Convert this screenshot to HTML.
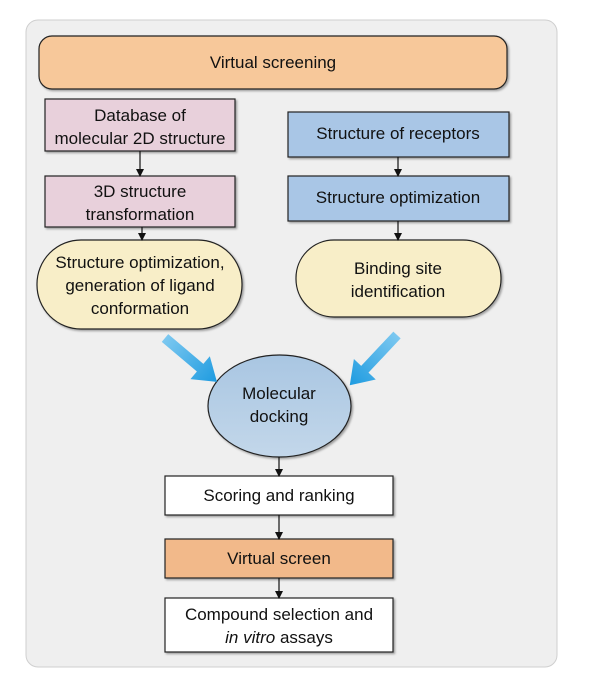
<!DOCTYPE html>
<html><head><meta charset="utf-8"><style>
body{margin:0;background:#fff;}
svg text{font-family:"Liberation Sans",sans-serif;font-size:17px;fill:#111;}
</style></head><body>
<svg width="600" height="686" viewBox="0 0 600 686" xmlns="http://www.w3.org/2000/svg">
<defs>
<marker id="ah" markerWidth="8" markerHeight="8" refX="7" refY="4" orient="auto" markerUnits="userSpaceOnUse"><path d="M0,0 L8,4 L0,8 Z" fill="#111"/></marker>
<linearGradient id="bg" x1="0" y1="0" x2="1" y2="0"><stop offset="0" stop-color="#7cc8f0"/><stop offset="1" stop-color="#1e9be0"/></linearGradient>
<linearGradient id="el" x1="0" y1="0" x2="0" y2="1"><stop offset="0" stop-color="#a9c6e2"/><stop offset="1" stop-color="#c3d7ea"/></linearGradient>
<filter id="sh" x="-10%" y="-10%" width="120%" height="130%"><feDropShadow dx="1.5" dy="1.5" stdDeviation="1" flood-color="#000" flood-opacity="0.35"/></filter>
</defs>
<rect x="26" y="20" width="531" height="647" rx="12" fill="#efefef" stroke="#cfcfcf"/>
<g filter="url(#sh)" stroke="#222" stroke-width="1.2">
<rect x="39" y="36" width="468" height="53" rx="13" fill="#f7c89a"/>
<rect x="45" y="99" width="190" height="52" fill="#e8d0db"/>
<rect x="45" y="176" width="190" height="51" fill="#e8d0db"/>
<rect x="37" y="240" width="205" height="89" rx="44" fill="#f8eec8"/>
<rect x="288" y="112" width="221" height="45" fill="#a9c6e6"/>
<rect x="288" y="176" width="221" height="45" fill="#a9c6e6"/>
<rect x="296" y="240" width="205" height="77" rx="38" fill="#f8eec8"/>
<ellipse cx="279.5" cy="406" rx="71.5" ry="51" fill="url(#el)"/>
<rect x="165" y="476" width="228" height="39" fill="#fff"/>
<rect x="165" y="539" width="228" height="39" fill="#f2b98a"/>
<rect x="165" y="598" width="228" height="54" fill="#fff"/>
</g>
<g stroke="#111" stroke-width="1.2" marker-end="url(#ah)">
<line x1="140" y1="151" x2="140" y2="176"/>
<line x1="142" y1="227" x2="142" y2="240"/>
<line x1="398" y1="157" x2="398" y2="176"/>
<line x1="398" y1="221" x2="398" y2="240"/>
<line x1="279" y1="457" x2="279" y2="476"/>
<line x1="279" y1="515" x2="279" y2="539"/>
<line x1="279" y1="578" x2="279" y2="598"/>
</g>
<g transform="translate(165,338) rotate(40.2)"><path d="M0,-5 L46,-5 L46,-15 L68,0 L46,15 L46,5 L0,5 Z" fill="url(#bg)"/></g>
<g transform="translate(397,335) rotate(133.2)"><path d="M0,-5 L47,-5 L47,-15 L69,0 L47,15 L47,5 L0,5 Z" fill="url(#bg)"/></g>
<g text-anchor="middle">
<text x="273" y="68">Virtual screening</text>
<text x="140" y="121">Database of</text>
<text x="140" y="144">molecular 2D structure</text>
<text x="140" y="197">3D structure</text>
<text x="140" y="220">transformation</text>
<text x="140" y="268">Structure optimization,</text>
<text x="140" y="291">generation of ligand</text>
<text x="140" y="314">conformation</text>
<text x="398" y="139">Structure of receptors</text>
<text x="398" y="203">Structure optimization</text>
<text x="398" y="274">Binding site</text>
<text x="398" y="297">identification</text>
<text x="279" y="399">Molecular</text>
<text x="279" y="422">docking</text>
<text x="279" y="501">Scoring and ranking</text>
<text x="279" y="564">Virtual screen</text>
<text x="279" y="620">Compound selection and</text>
<text x="279" y="643"><tspan font-style="italic">in vitro</tspan> assays</text>
</g>
</svg>
</body></html>
